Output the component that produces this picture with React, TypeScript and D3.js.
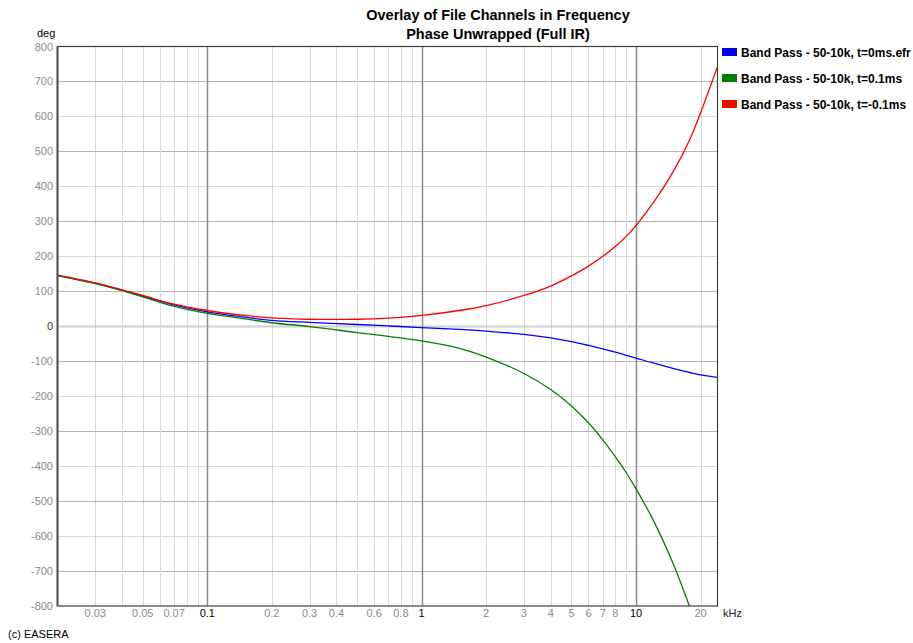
import {useEffect, useRef} from 'react';
import * as d3 from 'd3';

const freqs = [0.02, 0.03, 0.04, 0.05, 0.07, 0.1, 0.15, 0.2, 0.3, 0.5, 0.7, 1, 1.5, 2, 3, 4, 5, 6, 7, 8, 9, 10, 12, 15, 18, 20, 24];

// phase in degrees
const bluePhase = [145, 123, 103, 86, 61, 41, 26, 17, 11, 5, 1, -4, -9, -14, -23, -33, -44, -55, -65, -74, -83, -91, -105, -121, -133, -139, -146];
const greenPhase = [145, 122, 102, 84, 57, 37, 21, 10, -1, -18, -29, -42, -63, -88, -135, -181, -228, -276, -325, -373, -419, -465, -553, -683, -810, -880, -1040];
const redPhase = [146, 124, 104, 88, 63, 45, 31, 24, 20, 20, 23, 31, 45, 59, 88, 115, 144, 172, 200, 228, 257, 288, 352, 445, 540, 610, 742];

const seriesNames = [
    'Band Pass - 50-10k, t=0ms.efr',
    'Band Pass - 50-10k, t=0.1ms',
    'Band Pass - 50-10k, t=-0.1ms',
];
const seriesColors = ['#0000ff', '#008000', '#ff0000'];

const yTicks = d3.range(-800, 801, 100);
const xGrid = [0.03, 0.04, 0.05, 0.06, 0.07, 0.08, 0.09, 0.1, 0.2, 0.3, 0.4, 0.5, 0.6, 0.7, 0.8, 0.9, 1, 2, 3, 4, 5, 6, 7, 8, 9, 10, 20];
const xLabels = [0.03, 0.05, 0.07, 0.1, 0.2, 0.3, 0.4, 0.6, 0.8, 1, 2, 3, 4, 5, 6, 7, 8, 10, 20];
const decades = [0.1, 1, 10];

export default function App() {
    const ref = useRef<SVGSVGElement | null>(null);

    useEffect(() => {
        const width = 913;
        const height = 643;
        const m = {left: 57.5, right: 717.5, top: 46.5, bottom: 606};
        const font = 'Arial, "Liberation Sans", sans-serif';

        const svg = d3.select(ref.current);
        svg.selectAll('*').remove();
        svg.attr('width', width).attr('height', height);
        svg.append('rect').attr('width', width).attr('height', height).attr('fill', '#fff');

        const x = d3.scaleLog().domain([0.02, 24]).range([m.left, m.right]);
        const y = d3.scaleLinear().domain([-800, 800]).range([m.bottom, m.top]);

        // grid
        const grid = svg.append('g');
        grid.selectAll('.hg')
            .data(yTicks.filter((d) => d !== 800 && d !== -800))
            .enter()
            .append('line')
            .attr('x1', m.left)
            .attr('x2', m.right)
            .attr('y1', (d) => Math.round(y(d)) + 0.5)
            .attr('y2', (d) => Math.round(y(d)) + 0.5)
            .attr('stroke', (d) => (d === 0 ? '#a0a0a0' : '#b4b4b4'))
            .attr('stroke-width', (d) => (d === 0 ? 2 : 1))
            .attr('stroke-dasharray', (d) => (Math.abs(d) % 200 === 100 ? 'none' : '1,1'));

        grid.selectAll('.vg')
            .data(xGrid)
            .enter()
            .append('line')
            .attr('x1', (d) => Math.round(x(d)) + 0.5)
            .attr('x2', (d) => Math.round(x(d)) + 0.5)
            .attr('y1', m.top)
            .attr('y2', m.bottom)
            .attr('stroke', (d) =>
                decades.includes(d) ? '#8c8c8c' : xLabels.includes(d) ? '#b0b0b0' : '#dcdcdc'
            )
            .attr('stroke-width', (d) => (decades.includes(d) ? 1.5 : 1))
            .attr('stroke-dasharray', (d) => (decades.includes(d) || !xLabels.includes(d) ? 'none' : '1,1'));

        // curves
        svg.append('clipPath')
            .attr('id', 'plot-clip')
            .append('rect')
            .attr('x', m.left)
            .attr('y', m.top)
            .attr('width', m.right - m.left)
            .attr('height', m.bottom - m.top);

        const line = d3
            .line<number>()
            .x((d, i) => x(freqs[i]))
            .y((d) => y(d))
            .curve(d3.curveCatmullRom.alpha(0.5));

        const curves = svg.append('g').attr('clip-path', 'url(#plot-clip)');
        [bluePhase, greenPhase, redPhase].forEach((s, i) => {
            curves
                .append('path')
                .attr('d', line(s))
                .attr('fill', 'none')
                .attr('stroke', seriesColors[i])
                .attr('stroke-width', 1.3);
        });

        // frame
        svg.append('rect')
            .attr('x', m.left)
            .attr('y', m.top)
            .attr('width', m.right - m.left)
            .attr('height', m.bottom - m.top)
            .attr('fill', 'none')
            .attr('stroke', '#404040')
            .attr('stroke-width', 1.2);
        svg.append('line')
            .attr('x1', m.left)
            .attr('x2', m.left)
            .attr('y1', m.top)
            .attr('y2', m.bottom)
            .attr('stroke', '#505050')
            .attr('stroke-width', 2);

        // y labels
        svg.selectAll('.yl')
            .data(yTicks)
            .enter()
            .append('text')
            .attr('x', 53)
            .attr('y', (d) => y(d) + 4)
            .attr('text-anchor', 'end')
            .attr('font-family', font)
            .attr('font-size', '11px')
            .attr('fill', (d) => (d === 0 ? '#303030' : '#8a8a8a'))
            .text((d) => d);

        // x labels
        svg.selectAll('.xl')
            .data(xLabels)
            .enter()
            .append('text')
            .attr('x', (d) => x(d))
            .attr('y', 617)
            .attr('text-anchor', 'middle')
            .attr('font-family', font)
            .attr('font-size', '11px')
            .attr('fill', (d) => (decades.includes(d) ? '#000' : '#8a8a8a'))
            .text((d) => String(d));

        svg.append('text')
            .attr('x', 723)
            .attr('y', 617)
            .attr('font-family', font)
            .attr('font-size', '11px')
            .attr('fill', '#202020')
            .text('kHz');

        svg.append('text')
            .attr('x', 37)
            .attr('y', 37)
            .attr('font-family', font)
            .attr('font-size', '11px')
            .attr('fill', '#000')
            .text('deg');

        svg.append('text')
            .attr('x', 8)
            .attr('y', 638)
            .attr('font-family', font)
            .attr('font-size', '11px')
            .attr('fill', '#000')
            .text('(c) EASERA');

        // titles
        const titles = ['Overlay of File Channels in Frequency', 'Phase Unwrapped (Full IR)'];
        svg.selectAll('.title')
            .data(titles)
            .enter()
            .append('text')
            .attr('x', 498)
            .attr('y', (d, i) => 20 + i * 19)
            .attr('text-anchor', 'middle')
            .attr('font-family', font)
            .attr('font-size', '14.5px')
            .attr('font-weight', 'bold')
            .attr('fill', '#000')
            .text((d) => d);

        // legend
        const legend = svg.append('g');
        seriesNames.forEach((name, i) => {
            const ly = 48 + i * 26;
            legend.append('rect')
                .attr('x', 722)
                .attr('y', ly)
                .attr('width', 15)
                .attr('height', 8)
                .attr('fill', seriesColors[i]);
            legend.append('text')
                .attr('x', 741)
                .attr('y', ly + 8.5)
                .attr('font-family', font)
                .attr('font-size', '12px')
                .attr('font-weight', 'bold')
                .attr('fill', '#000')
                .text(name);
        });
    }, []);

    return <svg ref={ref} style={{position: 'absolute', left: 0, top: 0}}></svg>;
}
